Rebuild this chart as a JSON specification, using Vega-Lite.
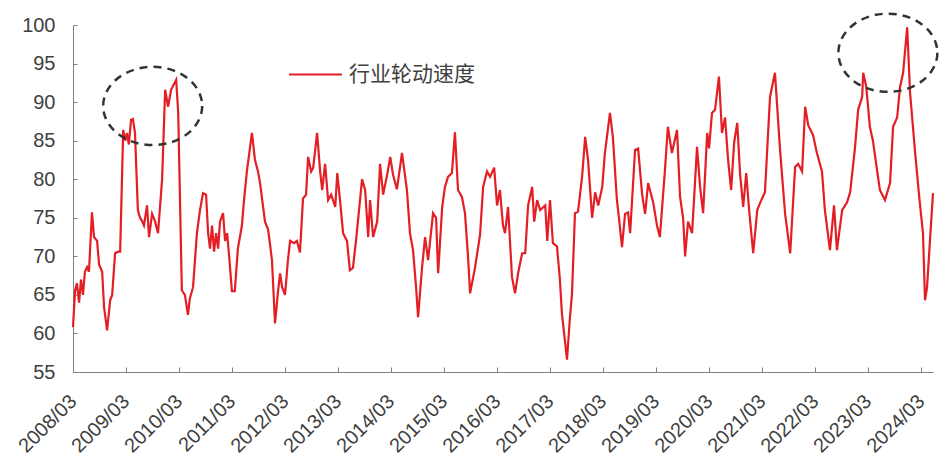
{
  "$schema": "https://vega.github.io/schema/vega-lite/v6.json",
  "width": 860,
  "height": 347,
  "autosize": {"type": "none"},
  "padding": {"left": 73, "top": 25, "right": 12, "bottom": 96},
  "background": "white",
  "config": {"view": {"stroke": null}, "font": "Liberation Sans"},
  "datasets": {
    "series": [
      {"d":"2008-03-01","v":60.8},{"d":"2008-03-15","v":65.5},{"d":"2008-03-28","v":66.5},{"d":"2008-04-12","v":64},{"d":"2008-04-25","v":67},{"d":"2008-05-09","v":65},{"d":"2008-05-22","v":68},{"d":"2008-06-06","v":68.6},{"d":"2008-06-19","v":68},{"d":"2008-07-10","v":75.7},{"d":"2008-07-24","v":72.5},{"d":"2008-08-14","v":72},{"d":"2008-08-28","v":68.9},{"d":"2008-09-18","v":68},{"d":"2008-10-01","v":63.4},{"d":"2008-10-22","v":60.4},{"d":"2008-11-12","v":64.3},{"d":"2008-11-26","v":65},{"d":"2008-12-16","v":70.4},{"d":"2009-01-06","v":70.6},{"d":"2009-01-20","v":70.6},
      {"d":"2009-02-10","v":86.4},{"d":"2009-02-24","v":85},{"d":"2009-03-08","v":86},{"d":"2009-03-21","v":84.5},{"d":"2009-04-05","v":87.7},{"d":"2009-04-18","v":87.8},{"d":"2009-05-02","v":86},{"d":"2009-05-22","v":76},{"d":"2009-06-06","v":75},{"d":"2009-06-19","v":74.6},{"d":"2009-07-03","v":74},{"d":"2009-07-24","v":76.6},{"d":"2009-08-07","v":72.5},{"d":"2009-08-28","v":75.5},{"d":"2009-09-18","v":74.5},{"d":"2009-10-08","v":73},{"d":"2009-11-05","v":80},{"d":"2009-11-26","v":91.6},{"d":"2009-12-16","v":89.4},{"d":"2010-01-06","v":91.6},{"d":"2010-02-10","v":92.9},{"d":"2010-02-24","v":88.6},{"d":"2010-03-21","v":65.6},{"d":"2010-04-11","v":65},{"d":"2010-05-02","v":62.4},{"d":"2010-05-15","v":64.5},{"d":"2010-06-06","v":66},{"d":"2010-07-03","v":73},{"d":"2010-07-24","v":76},{"d":"2010-08-14","v":78.2},{"d":"2010-09-04","v":78},{"d":"2010-09-18","v":73},{"d":"2010-10-01","v":71},{"d":"2010-10-15","v":74},{"d":"2010-10-29","v":70.6},{"d":"2010-11-12","v":73},{"d":"2010-11-26","v":71},{"d":"2010-12-09","v":74.5},{"d":"2010-12-30","v":75.6},{"d":"2011-01-13","v":72},{"d":"2011-01-27","v":73},{"d":"2011-02-10","v":70},{"d":"2011-03-01","v":65.5},{"d":"2011-03-21","v":65.5},{"d":"2011-04-11","v":71},{"d":"2011-05-09","v":74},{"d":"2011-05-22","v":77},{"d":"2011-06-12","v":81},{"d":"2011-07-03","v":84},{"d":"2011-07-17","v":86},{"d":"2011-08-07","v":82.5},{"d":"2011-08-28","v":81},{"d":"2011-09-11","v":79.5},{"d":"2011-10-15","v":74.5},{"d":"2011-11-05","v":73.5},{"d":"2011-11-19","v":71.5},{"d":"2011-12-02","v":69.5},{"d":"2011-12-23","v":61.3},{"d":"2012-01-13","v":65.5},{"d":"2012-01-27","v":67.8},{"d":"2012-02-10","v":66},{"d":"2012-03-01","v":65},{"d":"2012-03-21","v":69.5},{"d":"2012-04-05","v":72},{"d":"2012-05-02","v":71.7},{"d":"2012-05-22","v":72},{"d":"2012-06-12","v":70.5},{"d":"2012-07-03","v":77.5},{"d":"2012-07-24","v":78},{"d":"2012-08-07","v":82.9},{"d":"2012-08-28","v":81},{"d":"2012-09-11","v":81.5},{"d":"2012-10-08","v":86},{"d":"2012-10-29","v":81},{"d":"2012-11-12","v":78.6},{"d":"2012-12-02","v":82},{"d":"2012-12-23","v":77.3},{"d":"2013-01-13","v":78},{"d":"2013-02-10","v":76.4},{"d":"2013-02-24","v":80.8},{"d":"2013-03-15","v":77.3},{"d":"2013-04-05","v":73},{"d":"2013-05-02","v":72},{"d":"2013-05-22","v":68.2},{"d":"2013-06-12","v":68.5},{"d":"2013-07-03","v":72},{"d":"2013-07-24","v":76},{"d":"2013-08-14","v":80},{"d":"2013-09-04","v":78.6},{"d":"2013-09-25","v":72.5},{"d":"2013-10-08","v":77.3},{"d":"2013-10-29","v":72.5},{"d":"2013-11-26","v":74.5},{"d":"2013-12-16","v":82},{"d":"2014-01-06","v":78},{"d":"2014-02-03","v":80.6},{"d":"2014-02-24","v":82.9},{"d":"2014-03-15","v":80.6},{"d":"2014-04-11","v":78.7},{"d":"2014-05-16","v":83.4},{"d":"2014-06-19","v":78.6},{"d":"2014-07-10","v":73},{"d":"2014-07-31","v":70.8},{"d":"2014-08-21","v":66},{"d":"2014-09-04","v":62.1},{"d":"2014-10-01","v":68.5},{"d":"2014-10-22","v":72.5},{"d":"2014-11-12","v":69.5},{"d":"2014-12-16","v":75.6},{"d":"2015-01-06","v":75},{"d":"2015-01-20","v":67.8},{"d":"2015-02-17","v":76.4},{"d":"2015-03-08","v":79},{"d":"2015-03-29","v":80.3},{"d":"2015-04-25","v":80.8},{"d":"2015-05-16","v":86.1},{"d":"2015-06-06","v":78.6},{"d":"2015-07-03","v":77.7},{"d":"2015-07-24","v":75.6},{"d":"2015-08-14","v":70},{"d":"2015-08-28","v":65.2},{"d":"2015-10-01","v":68.5},{"d":"2015-11-05","v":72.8},{"d":"2015-11-26","v":79},{"d":"2015-12-23","v":81},{"d":"2016-01-13","v":80.3},{"d":"2016-02-10","v":81.5},{"d":"2016-03-01","v":76.6},{"d":"2016-03-21","v":78.6},{"d":"2016-04-11","v":74},{"d":"2016-04-25","v":73},{"d":"2016-05-16","v":76.4},{"d":"2016-06-12","v":67.3},{"d":"2016-07-03","v":65.2},{"d":"2016-07-24","v":67.8},{"d":"2016-08-21","v":70.4},{"d":"2016-09-11","v":70.4},{"d":"2016-10-01","v":76.6},{"d":"2016-10-29","v":79},{"d":"2016-11-12","v":74.5},{"d":"2016-12-02","v":77.3},{"d":"2016-12-23","v":76},{"d":"2017-01-27","v":76.6},{"d":"2017-02-10","v":72},{"d":"2017-03-01","v":77.3},{"d":"2017-03-21","v":71.7},{"d":"2017-04-18","v":71.3},{"d":"2017-05-08","v":67},{"d":"2017-05-22","v":62.6},{"d":"2017-06-12","v":59},{"d":"2017-06-26","v":56.6},{"d":"2017-07-16","v":62},{"d":"2017-07-30","v":65},{"d":"2017-08-20","v":75.6},{"d":"2017-09-10","v":75.8},{"d":"2017-10-08","v":80.3},{"d":"2017-10-29","v":85.5},{"d":"2017-11-18","v":82.5},{"d":"2017-12-16","v":75},{"d":"2018-01-06","v":78.3},{"d":"2018-01-27","v":76.6},{"d":"2018-02-24","v":79},{"d":"2018-03-14","v":83.4},{"d":"2018-04-04","v":86.5},{"d":"2018-04-18","v":88.6},{"d":"2018-05-08","v":85.5},{"d":"2018-06-05","v":77.3},{"d":"2018-06-19","v":75},{"d":"2018-07-10","v":71.2},{"d":"2018-07-31","v":75.5},{"d":"2018-08-21","v":75.7},{"d":"2018-09-04","v":73},{"d":"2018-10-08","v":83.8},{"d":"2018-10-29","v":84},{"d":"2018-11-26","v":78},{"d":"2018-12-16","v":75.5},{"d":"2019-01-06","v":79.5},{"d":"2019-02-10","v":77},{"d":"2019-03-08","v":74},{"d":"2019-03-28","v":72.5},{"d":"2019-05-02","v":81.2},{"d":"2019-05-22","v":86.8},{"d":"2019-06-19","v":83.4},{"d":"2019-07-24","v":86.4},{"d":"2019-08-14","v":77.7},{"d":"2019-09-04","v":75},{"d":"2019-09-18","v":70},{"d":"2019-10-08","v":74.5},{"d":"2019-11-05","v":73},{"d":"2019-12-09","v":84.2},{"d":"2019-12-30","v":79},{"d":"2020-01-20","v":75.6},{"d":"2020-02-17","v":86},{"d":"2020-03-01","v":84},{"d":"2020-03-21","v":88.6},{"d":"2020-04-11","v":89},{"d":"2020-05-08","v":93.3},{"d":"2020-05-29","v":86},{"d":"2020-06-19","v":88},{"d":"2020-07-10","v":82.5},{"d":"2020-07-31","v":78.6},{"d":"2020-08-21","v":84.8},{"d":"2020-09-11","v":87.3},{"d":"2020-10-01","v":80.6},{"d":"2020-10-22","v":76.4},{"d":"2020-11-12","v":80.8},{"d":"2020-12-02","v":76},{"d":"2020-12-30","v":70.4},{"d":"2021-01-27","v":76},{"d":"2021-02-17","v":77},{"d":"2021-03-21","v":78.3},{"d":"2021-04-25","v":90.7},{"d":"2021-05-29","v":93.8},{"d":"2021-07-03","v":83.8},{"d":"2021-08-07","v":75.5},{"d":"2021-09-11","v":70.4},{"d":"2021-10-15","v":81.6},{"d":"2021-11-05","v":82},{"d":"2021-12-02","v":81},{"d":"2021-12-23","v":89.4},{"d":"2022-01-13","v":87},{"d":"2022-02-16","v":85.7},{"d":"2022-03-14","v":83.4},{"d":"2022-04-18","v":81},{"d":"2022-05-08","v":76},{"d":"2022-06-12","v":70.8},{"d":"2022-07-10","v":76.6},{"d":"2022-07-30","v":70.8},{"d":"2022-09-04","v":76},{"d":"2022-10-08","v":77},{"d":"2022-10-29","v":78.3},{"d":"2022-12-02","v":84.2},{"d":"2022-12-23","v":89},{"d":"2023-01-20","v":90.7},{"d":"2023-01-27","v":93.8},{"d":"2023-02-17","v":92},{"d":"2023-03-14","v":86.8},{"d":"2023-04-04","v":85},{"d":"2023-05-02","v":81.2},{"d":"2023-05-22","v":78.6},{"d":"2023-06-26","v":77.3},{"d":"2023-07-31","v":79.5},{"d":"2023-08-21","v":86.8},{"d":"2023-09-18","v":88},{"d":"2023-10-08","v":92},{"d":"2023-10-29","v":93.8},{"d":"2023-11-26","v":99.7},{"d":"2023-12-16","v":91.2},{"d":"2024-01-20","v":83.4},{"d":"2024-02-17","v":77.7},{"d":"2024-03-14","v":73},{"d":"2024-03-28","v":64.3},{"d":"2024-04-11","v":66},{"d":"2024-05-01","v":72},{"d":"2024-05-22","v":78.2}
    ],
    "circles": [
      {"d": "2009-09-01", "v": 89.5},
      {"d": "2023-07-16", "v": 96.4}
    ]
  },
  "encoding": {
    "x": {
      "field": "d", "type": "temporal", "title": null,
      "scale": {"type": "utc", "domain": [{"year": 2008, "month": 3, "date": 1, "utc": true}, {"year": 2024, "month": 5, "date": 22, "utc": true}]},
      "axis": {
        "values": [
          {"year": 2008, "month": 3, "date": 1, "utc": true},{"year": 2009, "month": 3, "date": 1, "utc": true},{"year": 2010, "month": 3, "date": 1, "utc": true},{"year": 2011, "month": 3, "date": 1, "utc": true},{"year": 2012, "month": 3, "date": 1, "utc": true},{"year": 2013, "month": 3, "date": 1, "utc": true},{"year": 2014, "month": 3, "date": 1, "utc": true},{"year": 2015, "month": 3, "date": 1, "utc": true},{"year": 2016, "month": 3, "date": 1, "utc": true},{"year": 2017, "month": 3, "date": 1, "utc": true},{"year": 2018, "month": 3, "date": 1, "utc": true},{"year": 2019, "month": 3, "date": 1, "utc": true},{"year": 2020, "month": 3, "date": 1, "utc": true},{"year": 2021, "month": 3, "date": 1, "utc": true},{"year": 2022, "month": 3, "date": 1, "utc": true},{"year": 2023, "month": 3, "date": 1, "utc": true},{"year": 2024, "month": 3, "date": 1, "utc": true}
        ],
        "labelExpr": "utcFormat(datum.value, '%Y/%m')",
        "labelAngle": -45, "labelAlign": "right", "labelBaseline": "middle",
        "labelFontSize": 20, "labelColor": "#404040", "labelFont": "Liberation Sans",
        "labelPadding": 31, "tickSize": -5, "domainColor": "#808080", "tickColor": "#808080",
        "grid": false, "labelOverlap": false, "labelFlush": false, "labelBound": false
      }
    },
    "y": {
      "field": "v", "type": "quantitative", "title": null,
      "scale": {"domain": [55, 100], "nice": false, "zero": false},
      "axis": {
        "values": [55, 60, 65, 70, 75, 80, 85, 90, 95, 100],
        "labelFontSize": 20, "labelColor": "#404040", "labelFont": "Liberation Sans",
        "labelPadding": 22, "tickSize": -4, "domainColor": "#808080", "tickColor": "#808080",
        "grid": false, "labelOverlap": false, "labelFlush": false
      }
    }
  },
  "layer": [
    {
      "data": {"name": "series"},
      "mark": {"type": "line", "strokeWidth": 2.2, "interpolate": "linear"},
      "encoding": {
        "color": {
          "datum": "行业轮动速度", "type": "nominal",
          "scale": {"range": ["#e31e24"]},
          "legend": {
            "orient": "none", "legendX": 215, "legendY": 22, "title": null,
            "symbolType": "stroke", "symbolSize": 2809, "symbolStrokeWidth": 2,
            "labelFontSize": 21, "labelFont": "Noto Sans CJK SC", "labelColor": "#404040",
            "labelOffset": 6, "padding": 0
          }
        }
      }
    },
    {
      "data": {"name": "circles"},
      "mark": {
        "type": "point",
        "shape": "M 1 0 C 1 0.4363 0.5523 0.79 0 0.79 C -0.5523 0.79 -1 0.4363 -1 0 C -1 -0.4363 -0.5523 -0.79 0 -0.79 C 0.5523 -0.79 1 -0.4363 1 0 Z",
        "size": 9801, "filled": false, "stroke": "#333333", "strokeWidth": 2.5,
        "strokeDash": [8, 6], "opacity": 1
      },
      "encoding": {}
    }
  ]
}
